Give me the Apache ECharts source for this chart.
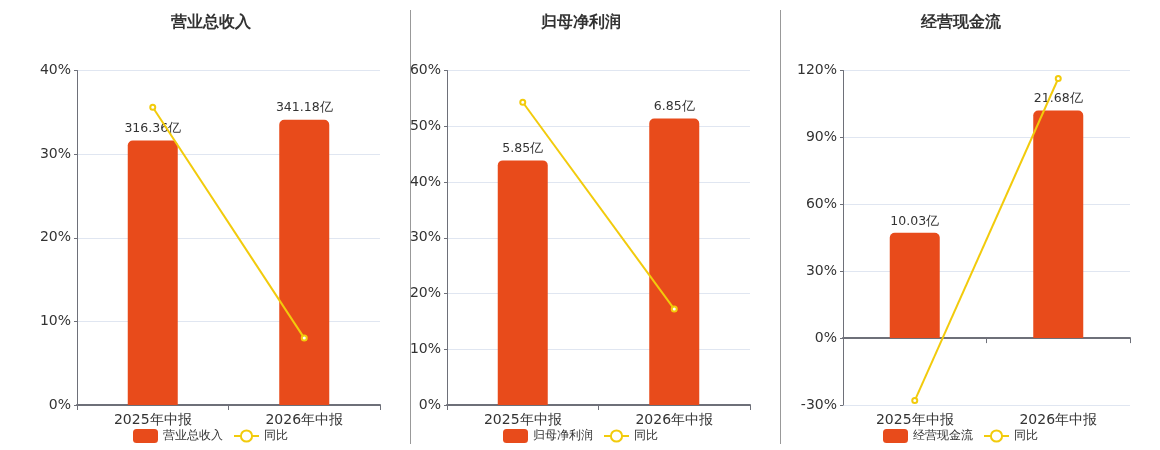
<!DOCTYPE html>
<html><head><meta charset="utf-8">
<script src="https://cdn.jsdelivr.net/npm/echarts@6/dist/echarts.min.js"></script>
<style>html,body{margin:0;padding:0;background:#fff}#c{width:1160px;height:450px}</style>
</head><body><div id="c"></div>
<script>
const categories = ['2025年中报', '2026年中报'];
const titles = ['营业总收入', '归母净利润', '经营现金流'];
const revenue = [316.36, 341.18];
const revenueYoY = [35.6, 8.0];
const netProfit = [5.85, 6.85];
const netProfitYoY = [54.3, 17.2];
const cashFlow = [10.03, 21.68];
const cashFlowYoY = [-28.0, 116.4];
const pctTicks = [
  {min: 0, max: 40, interval: 10},
  {min: 0, max: 60, interval: 10},
  {min: -30, max: 120, interval: 30}
];
const barScales = [
  {min: 0, max: 400},
  {min: 0, max: 8},
  {min: -6.375, max: 25.5}
];

const barVals = [revenue, netProfit, cashFlow];
const lineVals = [revenueYoY, netProfitYoY, cashFlowYoY];
const grids = [
  {left: 77, width: 303, top: 70.5, bottom: 45},
  {left: 447, width: 303, top: 70.5, bottom: 45},
  {left: 843, width: 287, top: 70.5, bottom: 45}
];
const centers = [206, 576, 956];
const BAR = '#E84B1B', LINE = '#F2CB0C', TXT = '#333';
const font = 'DejaVu Sans, Verdana, sans-serif';

const option = {
  animation: false,
  textStyle: {fontFamily: font},
  title: titles.map((t, i) => ({
    text: t, left: centers[i], top: 10, textAlign: 'center',
    textStyle: {fontSize: 16, fontWeight: 'bold', color: TXT, fontFamily: font}
  })),
  legend: titles.map((t, i) => ({
    data: [t, '同比'], top: 424,
    itemGap: 10, itemWidth: 25, itemHeight: 14,
    textStyle: {fontSize: 12, color: '#333', fontFamily: font},
    left: centers[i] - 78
  })),
  grid: grids,
  xAxis: grids.map((g, i) => ({
    type: 'category', gridIndex: i, data: categories,
    axisLine: {lineStyle: {color: '#6E7079', width: 2}},
    axisTick: {show: true, length: 5, lineStyle: {color: '#6E7079'}},
    axisLabel: {fontSize: 14, color: TXT, margin: 8, fontFamily: font}
  })),
  yAxis: [].concat(...grids.map((g, i) => ([
    {
      type: 'value', gridIndex: i, min: pctTicks[i].min, max: pctTicks[i].max, interval: pctTicks[i].interval,
      axisLine: {show: true, lineStyle: {color: '#6E7079'}},
      axisTick: {show: true, length: 3, lineStyle: {color: '#6E7079'}},
      axisLabel: {formatter: '{value}%', fontSize: 14, color: TXT, margin: 6, fontFamily: font},
      splitLine: {lineStyle: {color: '#E0E6F1'}}
    },
    {
      type: 'value', gridIndex: i, show: false, min: barScales[i].min, max: barScales[i].max,
      splitLine: {show: false}
    }
  ]))),
  series: [].concat(...grids.map((g, i) => ([
    {
      name: titles[i], type: 'bar', xAxisIndex: i, yAxisIndex: i * 2 + 1,
      data: barVals[i], barWidth: 50,
      itemStyle: {color: BAR, borderRadius: [5, 5, 0, 0]},
      label: {show: true, position: 'top', formatter: p => p.value + '亿', fontSize: 12.5, color: TXT, fontFamily: font}
    },
    {
      name: '同比', type: 'line', xAxisIndex: i, yAxisIndex: i * 2,
      data: lineVals[i], symbol: 'emptyCircle', symbolSize: 5,
      lineStyle: {color: LINE, width: 2}, itemStyle: {color: LINE}, z: 5
    }
  ]))),
  graphic: [
    {type: 'line', shape: {x1: 410.5, y1: 10, x2: 410.5, y2: 444}, style: {stroke: '#999', lineWidth: 1}},
    {type: 'line', shape: {x1: 780.5, y1: 10, x2: 780.5, y2: 444}, style: {stroke: '#999', lineWidth: 1}}
  ]
};
const chart = echarts.init(document.getElementById('c'));
chart.setOption(option);
</script></body></html>
